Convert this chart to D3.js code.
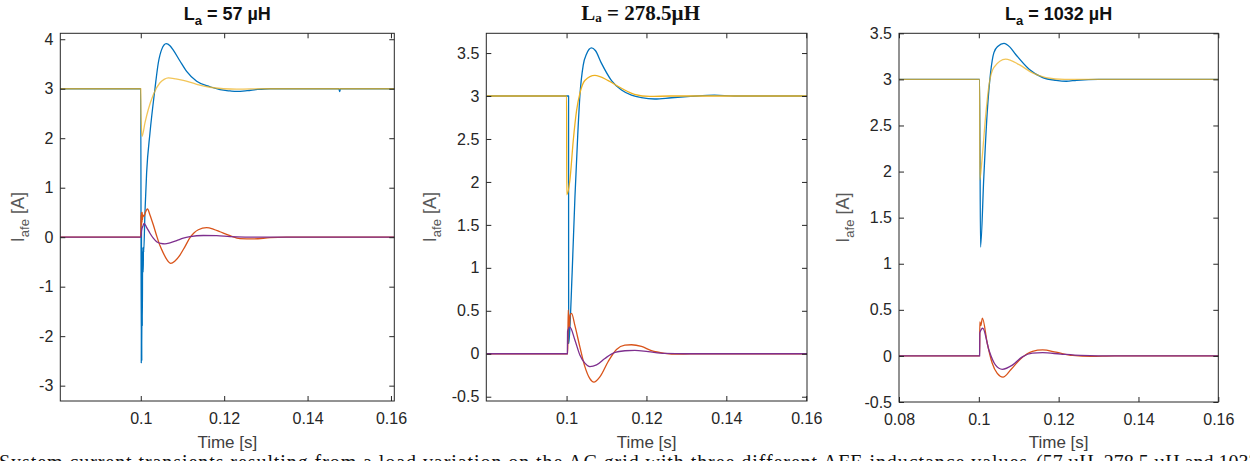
<!DOCTYPE html>
<html>
<head>
<meta charset="utf-8">
<title>AFE current transients</title>
<script src="https://d3js.org/d3.v7.min.js"></script>
<style>
  body { margin: 0; background: #fff; }
  svg { display: block; }
  .tick text { font-family: "Liberation Sans", Arial, sans-serif; font-size: 16px; fill: #262626; }
</style>
</head>
<body>
<svg id="chart" width="1250" height="461"></svg>
<script>
// panel titles: [main, subscript, rest]
var titles = [["L", "a", " = 57 µH"], ["L", "a", " = 278.5µH"], ["L", "a", " = 1032 µH"]];

// tick values
var xTicksA = [0.1, 0.12, 0.14, 0.16];
var xTicksB = [0.08, 0.1, 0.12, 0.14, 0.16];
var yTicks1 = [-3, -2, -1, 0, 1, 2, 3, 4];
var yTicks2 = [-0.5, 0, 0.5, 1, 1.5, 2, 2.5, 3, 3.5];

// La = 57 uH  [time, current]
var p1Blue = [[0.08,3],[0.1,3],[0.10012,-2.55],[0.10018,0.2],[0.10024,-2.5],[0.1003,-0.2],[0.10036,-1.8],
  [0.10045,-0.3],[0.10055,-0.7],[0.1006,-0.7],[0.10063,-0.2],[0.1007,-0.3],[0.101,0.5],[0.1014,1.3],
  [0.1022,2.1],[0.1034,3.0],[0.1042,3.52],[0.105,3.79],[0.1061,3.91],[0.107,3.87],[0.1078,3.78],[0.1094,3.56],
  [0.111,3.35],[0.1134,3.15],[0.1166,3.04],[0.119,2.98],[0.1214,2.955],[0.123,2.945],[0.1255,2.96],
  [0.128,2.985],[0.131,3.0],[0.1475,3.0],[0.1477,2.94],[0.1479,3.0],[0.17,3]];
var p1Red = [[0.08,0],[0.1,0],[0.10005,0.45],[0.1001,0.2],[0.10015,0.5],[0.1002,0.25],[0.10025,0.48],
  [0.1003,0.3],[0.10035,0.5],[0.1004,0.35],[0.1005,0.45],[0.1008,0.42],[0.1011,0.5],[0.1016,0.57],
  [0.1022,0.45],[0.103,0.25],[0.1038,0.03],[0.1046,-0.17],[0.1054,-0.32],[0.1063,-0.46],[0.1072,-0.53],
  [0.1082,-0.48],[0.1094,-0.36],[0.1106,-0.19],[0.1118,-0.01],[0.1128,0.09],[0.1138,0.15],[0.1158,0.195],
  [0.1175,0.16],[0.119,0.11],[0.1214,0.03],[0.1238,-0.03],[0.127,-0.035],[0.131,-0.01],[0.135,0],[0.17,0]];
var p1Yellow = [[0.08,3],[0.1,3],[0.10005,2.5],[0.1003,2.04],[0.101,2.31],[0.1018,2.58],[0.103,2.88],
  [0.1046,3.12],[0.1056,3.19],[0.1066,3.22],[0.1084,3.2],[0.1102,3.17],[0.1134,3.09],[0.1166,3.03],
  [0.1198,3.0],[0.123,2.99],[0.13,3.0],[0.17,3]];
var p1Purple = [[0.08,0],[0.1,0],[0.1002,0.15],[0.1005,0.22],[0.1008,0.28],[0.1014,0.2],[0.1022,0.08],
  [0.103,-0.02],[0.1038,-0.09],[0.1048,-0.125],[0.1058,-0.135],[0.107,-0.115],[0.1086,-0.07],
  [0.1102,-0.02],[0.1118,0.01],[0.115,0.034],[0.1182,0.03],[0.1214,0.012],[0.125,0.003],[0.13,0],[0.17,0]];

// La = 278.5 uH
var p2Blue = [[0.08,3],[0.1005,3],[0.10052,0.12],[0.1007,0.2],[0.1014,0.95],[0.1021,1.83],[0.1028,2.55],
  [0.10333,3.0],[0.10417,3.36],[0.105,3.49],[0.10625,3.56],[0.1072,3.53],[0.10875,3.38],[0.11125,3.18],
  [0.11375,3.07],[0.11625,3.01],[0.11875,2.98],[0.12208,2.965],[0.12625,2.98],[0.131,2.995],
  [0.137,3.01],[0.142,3.0],[0.17,3]];
var p2Red = [[0.08,0],[0.1003,0],[0.1004,0.51],[0.1007,0.3],[0.1009,0.45],[0.10125,0.47],[0.10208,0.33],
  [0.10333,0.08],[0.10458,-0.15],[0.10583,-0.29],[0.10683,-0.33],[0.10833,-0.27],[0.11042,-0.09],
  [0.1125,0.05],[0.11458,0.10],[0.11625,0.105],[0.11875,0.085],[0.12125,0.035],[0.12458,0.005],
  [0.128,-0.005],[0.134,0],[0.17,0]];
var p2Yellow = [[0.08,3],[0.1,3],[0.10005,1.85],[0.10083,2.02],[0.10167,2.48],[0.1025,2.83],[0.10333,3.03],
  [0.10458,3.18],[0.10708,3.24],[0.11042,3.18],[0.11375,3.09],[0.117,3.02],[0.1208,2.995],[0.126,3.0],[0.17,3]];
var p2Purple = [[0.08,0],[0.1002,0],[0.10025,0.26],[0.10083,0.31],[0.10208,0.16],[0.10333,-0.015],
  [0.10458,-0.11],[0.10583,-0.15],[0.1075,-0.13],[0.1096,-0.055],[0.1121,0.015],[0.1146,0.035],
  [0.1171,0.04],[0.12042,0.025],[0.1246,0.005],[0.13,0],[0.17,0]];

// La = 1032 uH
var p3Blue = [[0.08,3],[0.1002,3],[0.10042,1.18],[0.10126,1.95],[0.1021,2.64],[0.10294,3.07],
  [0.10378,3.29],[0.1048,3.36],[0.1063,3.39],[0.1078,3.35],[0.10925,3.27],[0.1126,3.11],[0.116,3.02],
  [0.11934,2.99],[0.1219,2.98],[0.1245,2.99],[0.13,3.0],[0.17,3]];
var p3Red = [[0.08,0],[0.1002,0],[0.10025,0.37],[0.1005,0.33],[0.1009,0.41],[0.1021,0.14],[0.10336,-0.08],
  [0.10462,-0.19],[0.10605,-0.23],[0.108,-0.15],[0.1105,-0.03],[0.11344,0.05],[0.116,0.065],
  [0.11934,0.04],[0.1235,0.005],[0.128,-0.005],[0.134,0],[0.17,0]];
var p3Yellow = [[0.08,3],[0.1002,3],[0.10025,1.91],[0.1008,2.13],[0.1017,2.6],[0.10252,2.93],[0.10378,3.13],
  [0.10673,3.22],[0.1101,3.16],[0.11344,3.07],[0.1168,3.02],[0.1215,3.0],[0.17,3]];
var p3Purple = [[0.08,0],[0.1002,0],[0.10025,0.25],[0.101,0.30],[0.10252,0.065],[0.1042,-0.10],
  [0.10588,-0.145],[0.1084,-0.10],[0.1109,-0.01],[0.1134,0.03],[0.116,0.035],[0.1205,0.02],
  [0.1255,0.005],[0.13,0],[0.17,0]];

var colors = ["#0072BD", "#D95319", "#EDB120", "#7E2F8E"];

// caption under the figure (only its upper half is inside the picture)
var captionHead = "System current transients resulting from a load variation on the AC grid with three different AFE inductance values";
var captionTail = "(57 µH, 278.5 µH and 1032 µH).";

// layout of the three axes boxes
var panels = [
  { left: 60.3, right: 394.3, top: 33.3, bottom: 401, xDom: [0.0807, 0.1608], yDom: [-3.31, 4.12],
    xTicks: xTicksA, yTicks: yTicks1, series: [p1Blue, p1Red, p1Yellow, p1Purple], ylabX: 18,
    titleSerif: false, title: titles[0], yelOp: 0.75 },
  { left: 486.3, right: 807, top: 33.3, bottom: 401, xDom: [0.0799, 0.1602], yDom: [-0.55, 3.73],
    xTicks: xTicksA, yTicks: yTicks2, series: [p2Blue, p2Red, p2Yellow, p2Purple], ylabX: 430,
    titleSerif: true, title: titles[1], yelOp: 1 },
  { left: 899, right: 1218.3, top: 33.3, bottom: 402, xDom: [0.08, 0.16], yDom: [-0.5, 3.5],
    xTicks: xTicksB, yTicks: yTicks2, series: [p3Blue, p3Red, p3Yellow, p3Purple], ylabX: 843,
    titleSerif: false, title: titles[2], yelOp: 0.75 }
];

var svg = d3.select("#chart");
var defs = svg.append("defs");

panels.forEach(function(p, i) {
  var w = p.right - p.left, h = p.bottom - p.top;
  var x = d3.scaleLinear().domain(p.xDom).range([0, w]);
  var y = d3.scaleLinear().domain(p.yDom).range([h, 0]);

  var g = svg.append("g").attr("transform", "translate(" + p.left + "," + p.top + ")");

  defs.append("clipPath").attr("id", "clip" + i)
    .append("rect").attr("width", w).attr("height", h);

  var line = d3.line()
    .curve(d3.curveMonotoneX)
    .x(function(d) { return x(d[0]); })
    .y(function(d) { return y(d[1]); });

  var plot = g.append("g").attr("clip-path", "url(#clip" + i + ")");
  p.series.forEach(function(s, k) {
    plot.append("path")
      .datum(s)
      .attr("d", line)
      .attr("fill", "none")
      .attr("stroke", colors[k])
      .attr("stroke-width", 1.3)
      .attr("stroke-opacity", k == 2 ? p.yelOp : 1)
      .attr("stroke-linejoin", "round");
  });

  // ticks on all four sides, pointing inward
  var fmt = function(d) { return String(d); };
  g.append("g").attr("transform", "translate(0," + h + ")")
    .call(d3.axisBottom(x).tickValues(p.xTicks).tickFormat(fmt).tickSize(-5).tickPadding(12));
  g.append("g")
    .call(d3.axisTop(x).tickValues(p.xTicks).tickFormat("").tickSize(-5));
  g.append("g")
    .call(d3.axisLeft(y).tickValues(p.yTicks).tickFormat(fmt).tickSize(-5).tickPadding(7));
  g.append("g").attr("transform", "translate(" + w + ",0)")
    .call(d3.axisRight(y).tickValues(p.yTicks).tickFormat("").tickSize(-5));

  g.selectAll(".domain").remove();
  g.selectAll(".tick line").attr("stroke", "#262626");

  g.append("rect")
    .attr("width", w).attr("height", h)
    .attr("fill", "none").attr("stroke", "#262626").attr("stroke-width", 1);

  // x label
  svg.append("text")
    .attr("x", p.left + w / 2).attr("y", 448)
    .attr("text-anchor", "middle")
    .style("font-family", "Liberation Sans, Arial, sans-serif")
    .style("font-size", "17px").style("fill", "#404040")
    .text("Time [s]");

  // y label with subscript
  var yl = svg.append("text")
    .attr("transform", "translate(" + p.ylabX + "," + (p.top + h / 2) + ") rotate(-90)")
    .attr("text-anchor", "middle").attr("dy", "0.35em")
    .style("font-family", "Liberation Sans, Arial, sans-serif")
    .style("font-size", "18px").style("fill", "#595959");
  yl.append("tspan").text("I");
  yl.append("tspan").attr("dy", 5).style("font-size", "13px").text("afe");
  yl.append("tspan").attr("dy", -5).text(" [A]");

  // title
  var t = svg.append("text")
    .attr("x", p.left + w / 2 - (p.titleSerif ? 6 : 0)).attr("y", 20)
    .attr("text-anchor", "middle")
    .style("font-family", p.titleSerif ? "Liberation Serif, Times New Roman, serif" : "Liberation Sans, Arial, sans-serif")
    .style("font-weight", "bold")
    .style("font-size", p.titleSerif ? "21px" : "18px").style("fill", "#111");
  t.append("tspan").text(p.title[0]);
  t.append("tspan").attr("dy", p.titleSerif ? 2 : 5).style("font-size", "13px").text(p.title[1]);
  t.append("tspan").attr("dy", p.titleSerif ? -2 : -5).text(p.title[2]);
});

// figure caption, cut off by the bottom edge in the source
var capStyle = function(sel) {
  sel.style("font-family", "Liberation Serif, Times New Roman, serif")
    .style("font-size", "20px").style("fill", "#111");
};
svg.append("text")
  .attr("x", -1).attr("y", 469)
  .attr("textLength", 1028).attr("lengthAdjust", "spacing")
  .call(capStyle)
  .text(captionHead);
svg.append("text")
  .attr("x", 1036).attr("y", 469)
  .call(capStyle)
  .text(captionTail);
</script>
</body>
</html>
